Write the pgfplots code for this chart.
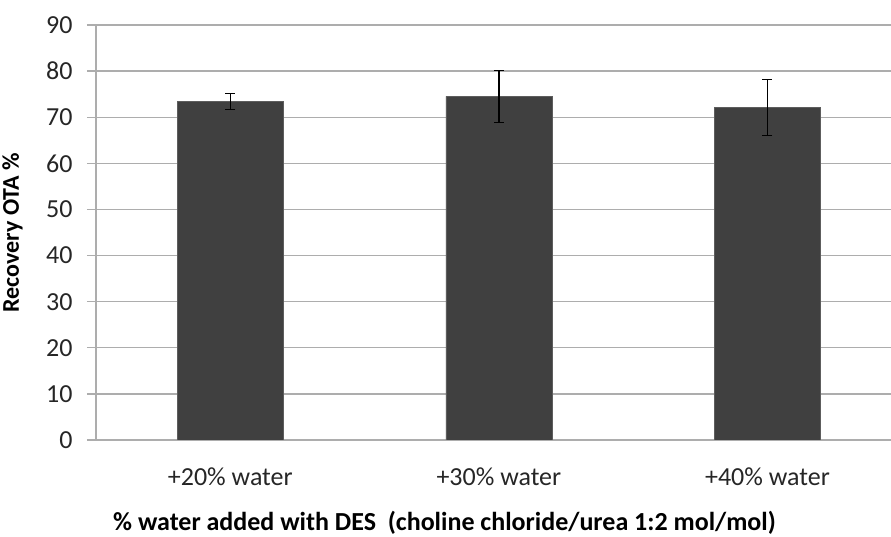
\documentclass[border=0pt]{standalone}
\usepackage{fontspec}
\setmainfont{Carlito}
\usepackage{pgfplots}
\pgfplotsset{compat=1.18}

\definecolor{barc}{HTML}{404040}
\definecolor{gridc}{HTML}{ADADAD}

\pgfplotstableread{
x  y     err
0  73.4  1.8
1  74.5  5.6
2  72.1  6.05
}\recovery

\begin{document}
\begin{tikzpicture}[x=1pt,y=1pt]
\useasboundingbox (-96,-97) rectangle (795,440);
\begin{axis}[
    at={(0,0)}, anchor=south west,
    scale only axis, width=795pt, height=415pt,
    xmin=-0.5, xmax=2.46, ymin=0, ymax=90,
    axis x line*=bottom, axis y line*=left,
    axis line style={gridc, line width=1.3pt, -},
    ymajorgrids, grid style={gridc, line width=1.3pt},
    ytick={0,10,...,90},
    xtick={0,1,2},
    xticklabels={+20\% water,+30\% water,+40\% water},
    minor xtick={-0.5,0.5,1.5},
    tick align=outside,
    major tick length=9pt, minor tick length=9pt,
    xtick style={draw=none},
    minor tick style={gridc, line width=1.3pt},
    ytick style={gridc, line width=1.3pt},
    /pgf/number format/assume math mode=true,
    tick label style={font=\fontsize{26}{26}\selectfont, text=black!85},
    xticklabel style={anchor=base, yshift=-37pt},
    yticklabel style={anchor=east, xshift=-11pt},
    ylabel={\bfseries Recovery OTA \%},
    ylabel style={at={(axis description cs:-0.105,0.5)}, anchor=center,
      font=\fontsize{24}{24}\selectfont},
    xlabel={\bfseries \% water added with DES\ \ (choline chloride/urea 1:2 mol/mol)},
    xlabel style={at={(axis description cs:0.4384,-0.2185)}, anchor=base,
      font=\fontsize{26}{26}\selectfont},
    ybar, bar width=106pt,
]
\addplot[fill=barc, draw=barc!85,
    error bars/.cd, y dir=both, y explicit,
    error bar style={black, line width=1.3pt},
    error mark options={rotate=90, mark size=5pt, line width=1.3pt, black}]
    table[x=x, y=y, y error=err] {\recovery};
\end{axis}
\end{tikzpicture}
\end{document}
